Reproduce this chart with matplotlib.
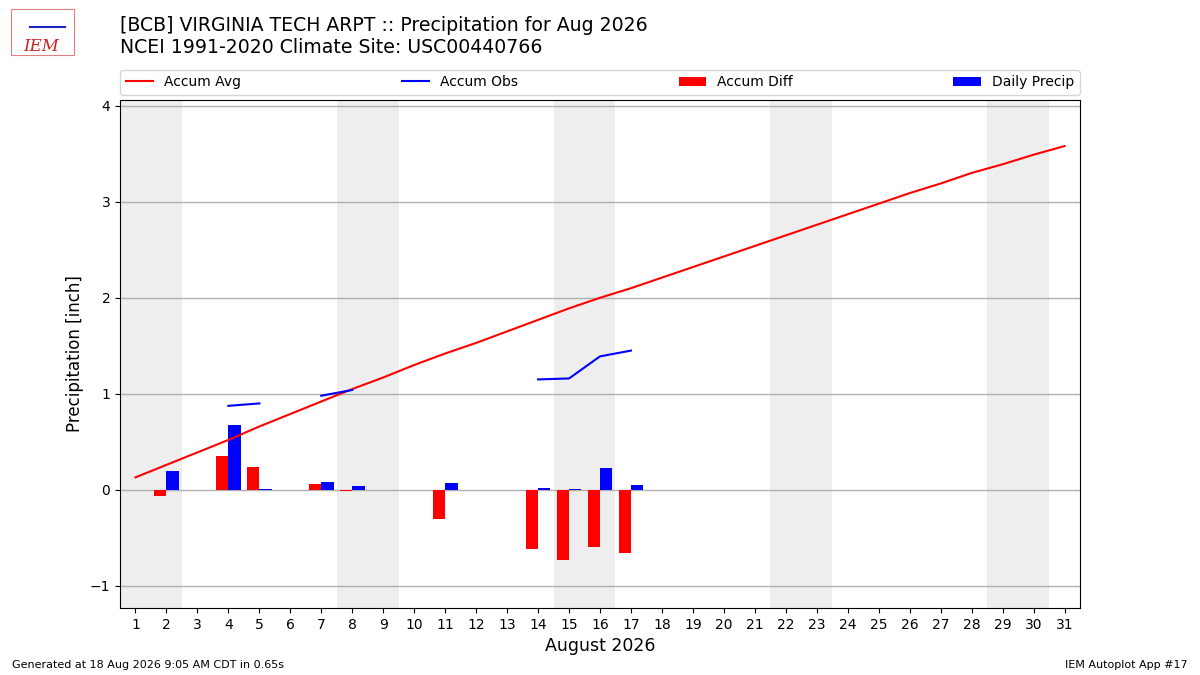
import matplotlib
matplotlib.use("Agg")
import matplotlib.pyplot as plt
import numpy as np

days = np.arange(1, 32)
accum_avg = [0.13, 0.26, 0.39, 0.52, 0.66, 0.79, 0.92, 1.05, 1.17, 1.30,
             1.42, 1.53, 1.65, 1.77, 1.89, 2.00, 2.10, 2.21, 2.32, 2.43,
             2.54, 2.65, 2.76, 2.87, 2.98, 3.09, 3.19, 3.30, 3.39, 3.49, 3.58]
obs_days = [2, 4, 5, 7, 8, 11, 14, 15, 16, 17]
accum_obs = [0.20, 0.875, 0.90, 0.98, 1.04, 1.12, 1.15, 1.16, 1.39, 1.45]
accum_diff = [-0.06, 0.355, 0.24, 0.06, -0.01, -0.30, -0.615, -0.73, -0.60, -0.655]
daily_precip = [0.20, 0.68, 0.01, 0.085, 0.04, 0.07, 0.02, 0.01, 0.23, 0.05]
weekend_days = [1, 2, 8, 9, 15, 16, 22, 23, 29, 30]

# accum obs drawn as broken line: NaN on days without data
obs_line = np.full(len(days), np.nan)
for d, v in zip(obs_days, accum_obs):
    obs_line[d - 1] = v
# single points (day 2, 11) have no neighbours so they don't draw

fig = plt.figure(figsize=(12, 6.75), dpi=100)
ax = fig.add_axes([0.1, 0.0993, 0.8, 0.7526])

for d in weekend_days:
    ax.axvspan(d - 0.5, d + 0.5, color="#EEEEEE", zorder=0, lw=0)

ax.plot(days, accum_avg, color="red", lw=1.5, label="Accum Avg", zorder=3)
ax.plot(days, obs_line, color="blue", lw=1.5, label="Accum Obs", zorder=3)
ax.bar(np.array(obs_days) - 0.4, accum_diff, width=0.4, align="edge",
       color="red", label="Accum Diff", zorder=2)
ax.bar(obs_days, daily_precip, width=0.4, align="edge",
       color="blue", label="Daily Precip", zorder=2)

ax.set_xlim(0.5, 31.5)
ax.set_ylim(-1.23, 4.06)
ax.set_xticks(days)
ax.set_yticks([-1, 0, 1, 2, 3, 4])
ax.set_yticklabels(["\u22121", "0", "1", "2", "3", "4"])
ax.grid(axis="y", color="#B0B0B0", lw=1, zorder=1)
ax.set_axisbelow(True)
ax.tick_params(labelsize=10)
ax.set_xlabel("August 2026", fontsize=12.5)
ax.set_ylabel("Precipitation [inch]", fontsize=12)

ax.legend(loc="lower left", bbox_to_anchor=(0, 1.01, 1, 0.05), mode="expand",
          ncol=4, fontsize=10, borderaxespad=0)

fig.text(0.1, 0.915, "[BCB] VIRGINIA TECH ARPT :: Precipitation for Aug 2026\n"
         "NCEI 1991-2020 Climate Site: USC00440766", fontsize=13.6, va="bottom")
fig.text(0.01, 0.01, "Generated at 18 Aug 2026 9:05 AM CDT in 0.65s", fontsize=8)
fig.text(0.99, 0.01, "IEM Autoplot App #17", fontsize=8, ha="right")

# small stand-in for the IEM logo
lax = fig.add_axes([0.008, 0.915, 0.058, 0.075])
lax.set_xlim(0, 1)
lax.set_ylim(0, 1)
lax.axis("off")
lax.add_patch(plt.Rectangle((0.02, 0.05), 0.9, 0.9, fill=False, ec="#E08080", lw=0.8))
lax.text(0.45, 0.22, "IEM", color="#D02020", fontsize=12, style="italic",
         family="serif", ha="center", va="center")
lax.plot([0.3, 0.8], [0.6, 0.6], color="#2020C0", lw=1.5)

fig.savefig("out.png", dpi=100)
